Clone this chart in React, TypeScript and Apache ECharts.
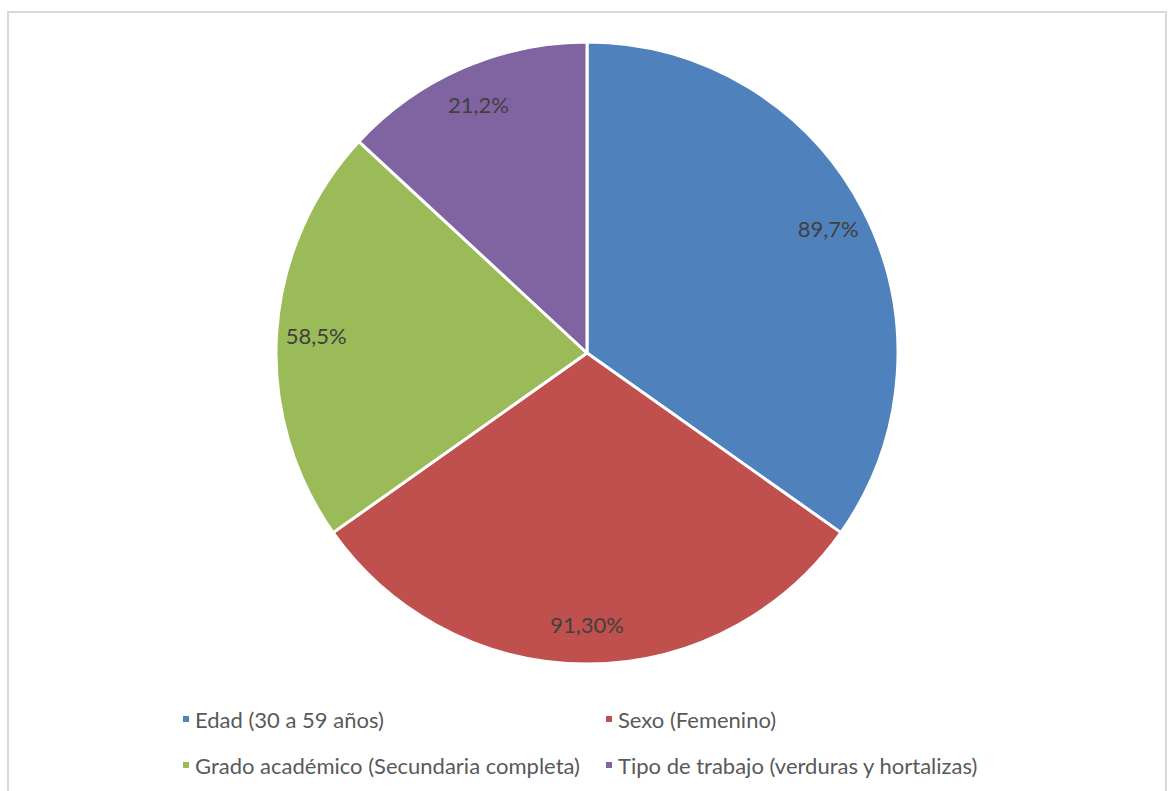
import React, { useEffect, useRef } from "react";
import * as echarts from "echarts";

const categories = [
  "Edad (30 a 59 años)",
  "Sexo (Femenino)",
  "Grado académico (Secundaria completa)",
  "Tipo de trabajo (verduras y hortalizas)",
];
// slice sizes as drawn (share of the full circle, %)
const sliceShares = [34.8, 30.4, 21.7, 13.1];
// label texts as printed on the slices
const labelTexts = ["89,7%", "91,30%", "58,5%", "21,2%"];
const colors = ["#4F81BD", "#C0504D", "#9BBB59", "#8064A2"];

const leftColumn = [0, 2];
const rightColumn = [1, 3];

export default function App() {
  const ref = useRef<HTMLDivElement>(null);
  useEffect(() => {
    if (!ref.current) return;
    const chart = echarts.init(ref.current, null, { renderer: "svg" });
    const data = categories.map((name, i) => ({
      name,
      value: sliceShares[i],
      itemStyle: { color: colors[i] },
    }));
    const legendItem = (i: number) => ({
      name: categories[i],
      itemStyle: { color: colors[i] },
    });
    const legendBase = {
      orient: "vertical" as const,
      top: 701,
      icon: "rect",
      itemWidth: 8,
      itemHeight: 8,
      itemGap: 20,
      selectedMode: false,
      textStyle: {
        fontFamily: "Lato",
        fontSize: 22,
        color: "#595959",
        lineHeight: 26,
        padding: [0, 0, 0, 0],
      },
    };
    chart.setOption({
      animation: false,
      backgroundColor: "#ffffff",
      graphic: [
        {
          type: "rect",
          shape: { x: 8, y: 12, width: 1158, height: 800 },
          style: { fill: "none", stroke: "#d9d9d9", lineWidth: 2 },
          silent: true,
        },
      ],
      legend: [
        { ...legendBase, left: 176, data: leftColumn.map(legendItem) },
        { ...legendBase, left: 599, data: rightColumn.map(legendItem) },
      ],
      series: [
        {
          type: "pie",
          center: [587, 353],
          radius: 311,
          startAngle: 90,
          clockwise: true,
          label: { show: false },
          labelLine: { show: false },
          itemStyle: { borderColor: "#ffffff", borderWidth: 3 },
          emphasis: { disabled: true },
          data,
        },
        {
          type: "pie",
          center: [587, 353],
          radius: [226, 311],
          startAngle: 90,
          clockwise: true,
          silent: true,
          legendHoverLink: false,
          itemStyle: { color: "transparent", borderWidth: 0 },
          labelLine: { show: false },
          label: {
            show: true,
            position: "inside",
            formatter: (p: any) => labelTexts[p.dataIndex],
            fontFamily: "Lato",
            fontSize: 22,
            color: "#404040",
          },
          emphasis: { disabled: true },
          data: categories.map((name, i) => ({
            name,
            value: sliceShares[i],
            itemStyle: { color: "transparent" },
          })),
        },
      ],
    });
    return () => chart.dispose();
  }, []);
  return (
    <div
      ref={ref}
      style={{ position: "absolute", left: 0, top: 0, width: 1170, height: 791 }}
    />
  );
}
